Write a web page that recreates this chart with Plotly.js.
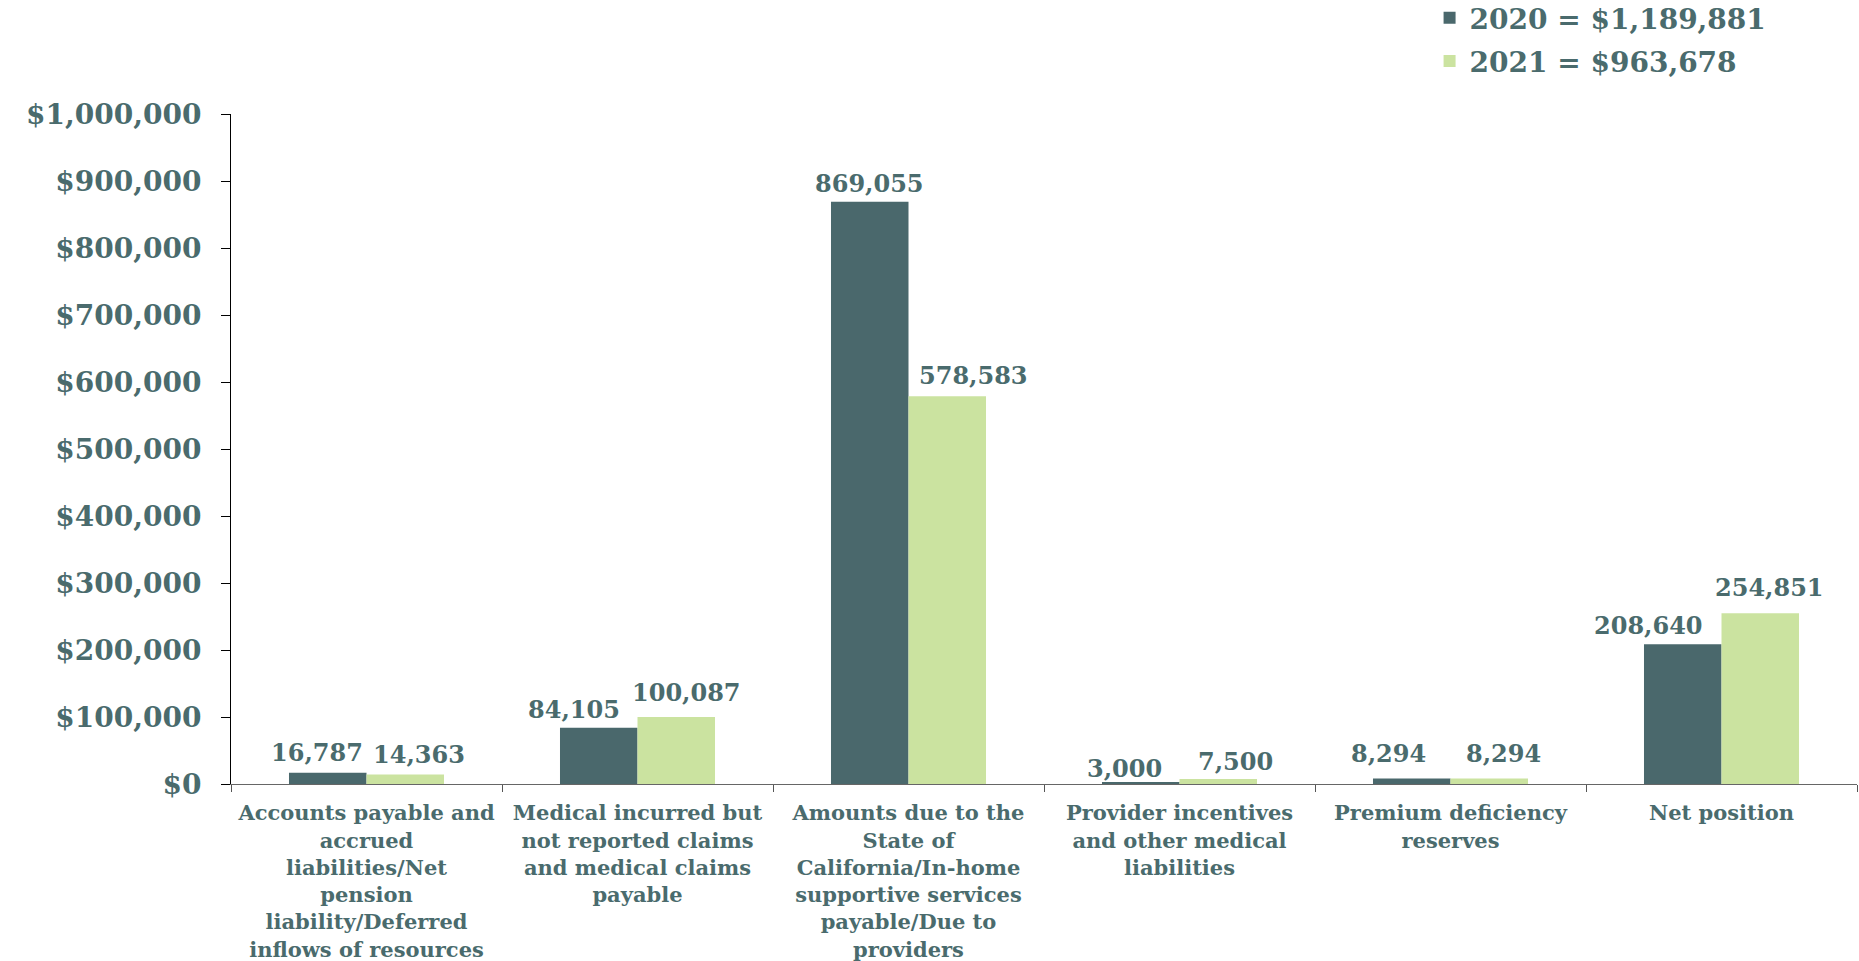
<!DOCTYPE html>
<html><head><meta charset="utf-8">
<script src="https://cdn.plot.ly/plotly-3.0.1.min.js"></script>
<style>html,body{margin:0;padding:0;background:#fff}#chart{width:1859px;height:961px}</style>
</head><body><div id="chart"></div>
<script>
// ---- data ----
const categories = [
  "Accounts payable and accrued liabilities/Net pension liability/Deferred inflows of resources",
  "Medical incurred but not reported claims and medical claims payable",
  "Amounts due to the State of California/In-home supportive services payable/Due to providers",
  "Provider incentives and other medical liabilities",
  "Premium deficiency reserves",
  "Net position"
];
const tickLabels = [
  "Accounts payable and<br>accrued<br>liabilities/Net<br>pension<br>liability/Deferred<br>inflows of resources",
  "Medical incurred but<br>not reported claims<br>and medical claims<br>payable",
  "Amounts due to the<br>State of<br>California/In-home<br>supportive services<br>payable/Due to<br>providers",
  "Provider incentives<br>and other medical<br>liabilities",
  "Premium deficiency<br>reserves",
  "Net position"
];
const values2020 = [16787, 84105, 869055, 3000, 8294, 208640];
const values2021 = [14363, 100087, 578583, 7500, 8294, 254851];
const name2020 = "2020 = $1,189,881";
const name2021 = "2021 = $963,678";

// ---- style ----
const DARK = "#4A686C", LIGHT = "#CBE3A0", TXT = "#4A6B6D";
const FONT = "DejaVu Serif";
const W = 1859, H = 961, ML = 231, MR = 2, MT = 114, MB = 177;
const BARGAP = 0.428;
// label offsets (pixels) relative to bar centre / bar top
const dx2020 = [-11, -25, 0, -16, -23, -34], dy2020 = [20, 18, 18, 13, 25, 19];
const dx2021 = [14, 10, 26, 17, 14, 9],   dy2021 = [20, 24, 21, 17, 25, 26];

const catW = (W - ML - MR) / categories.length;
const halfBar = catW * (1 - BARGAP) / 4;

const fmt = v => v.toLocaleString("en-US");
const annotations = [];
categories.forEach((c, i) => {
  annotations.push({x: c, y: values2020[i], xref: "x", yref: "y", text: fmt(values2020[i]),
    showarrow: false, xanchor: "center", yanchor: "middle",
    xshift: -halfBar + dx2020[i], yshift: dy2020[i],
    font: {family: FONT, weight: 700, size: 24, color: TXT}});
  annotations.push({x: c, y: values2021[i], xref: "x", yref: "y", text: fmt(values2021[i]),
    showarrow: false, xanchor: "center", yanchor: "middle",
    xshift: halfBar + dx2021[i], yshift: dy2021[i],
    font: {family: FONT, weight: 700, size: 24, color: TXT}});
});

const traces = [
  {type: "bar", name: name2020, x: categories, y: values2020, marker: {color: DARK},
   legendgroup: "a", hoverinfo: "x+y"},
  {type: "bar", name: name2021, x: categories, y: values2021, marker: {color: LIGHT},
   legendgroup: "b", hoverinfo: "x+y"}
];

const layout = {
  width: W, height: H,
  margin: {l: ML, r: MR, t: MT, b: MB, autoexpand: false},
  paper_bgcolor: "#fff", plot_bgcolor: "#fff",
  barmode: "group", bargap: BARGAP, bargroupgap: 0,
  font: {family: FONT, weight: 700, color: TXT},
  showlegend: true,
  legend: {xref: "container", yref: "paper", x: 0.769, y: 1.1806, xanchor: "left", yanchor: "top",
    font: {family: FONT, weight: 700, size: 28, color: TXT}, tracegroupgap: 4,
    bgcolor: "rgba(0,0,0,0)"},
  xaxis: {
    type: "category", tickmode: "array", tickvals: categories, ticktext: tickLabels,
    tickson: "boundaries", ticks: "outside", ticklen: 7, tickcolor: "#555", tickwidth: 1,
    showline: true, linecolor: "#666", linewidth: 1, showgrid: false, zeroline: false,
    ticklabelstandoff: 10,
    tickangle: 0, tickfont: {family: FONT, weight: 700, size: 21, color: TXT}, automargin: false
  },
  yaxis: {
    range: [0, 1000000], dtick: 100000, tickprefix: "$", tickformat: ",d",
    ticks: "outside", ticklen: 9, tickcolor: "#000", tickwidth: 1,
    showline: true, linecolor: "#000", linewidth: 1, showgrid: false, zeroline: false,
    ticklabelstandoff: 14,
    tickfont: {family: FONT, weight: 700, size: 28, color: TXT}, automargin: false
  },
  annotations: annotations
};

Plotly.newPlot("chart", traces, layout, {displayModeBar: false, staticPlot: true});
</script>
</body></html>
